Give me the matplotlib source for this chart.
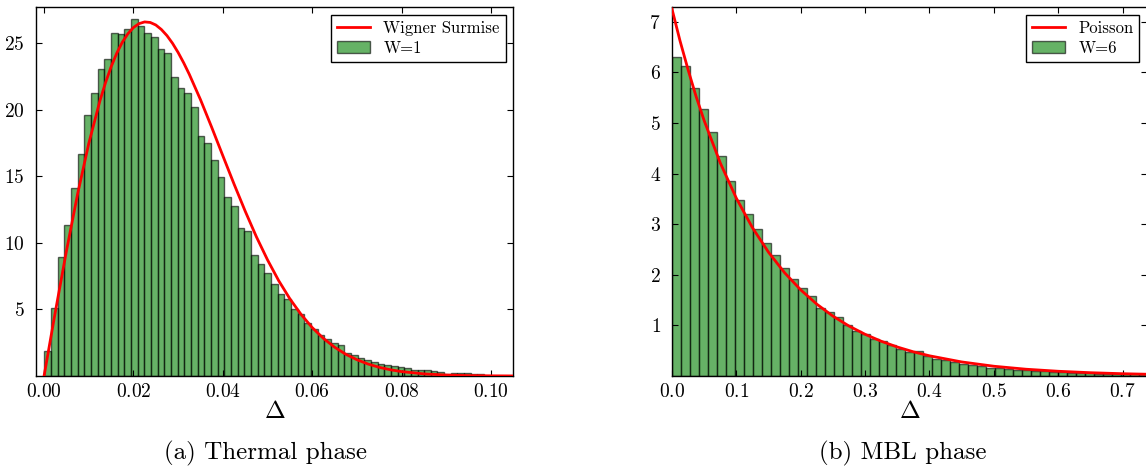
import matplotlib
matplotlib.use("Agg")
import matplotlib.pyplot as plt

# Serif look of the original (Computer Modern)
plt.rcParams['font.family'] = 'serif'
plt.rcParams['font.serif'] = ['cmr10', 'DejaVu Serif']
plt.rcParams['mathtext.fontset'] = 'cm'
plt.rcParams['axes.formatter.use_mathtext'] = True

# Thermal phase (W=1): histogram bars
thermal_start = 0.0001
thermal_width = 0.00149
thermal_heights = [1.88, 5.13, 8.96, 11.3, 14.13, 16.68, 19.58, 21.23, 23.08, 23.8,
                   25.73, 25.68, 26.05, 26.78, 26.3, 25.73, 25.48, 24.53, 24.25, 22.45,
                   21.63, 21.23, 20.2, 17.98, 17.5, 16.23, 14.95, 13.45, 12.78, 11.1,
                   10.85, 9.08, 8.38, 7.75, 6.93, 6.15, 5.75, 5.0, 4.65, 3.98,
                   3.55, 3.1, 2.8, 2.5, 2.33, 1.7, 1.6, 1.35, 1.18, 1.08,
                   0.93, 0.83, 0.78, 0.68, 0.6, 0.45, 0.43, 0.43, 0.35, 0.28,
                   0.13, 0.23, 0.23, 0.23, 0.13, 0.13]

# Wigner surmise curve
wigner_x = [0, 0.0025, 0.005, 0.0075, 0.01, 0.0125, 0.01375, 0.015, 0.01625, 0.0175,
            0.01875, 0.02, 0.02125, 0.0225, 0.02375, 0.025, 0.02625, 0.0275, 0.02875,
            0.03, 0.03125, 0.0325, 0.035, 0.0375, 0.04, 0.0425, 0.045, 0.0475,
            0.05, 0.0525, 0.055, 0.0575, 0.06, 0.0625, 0.065, 0.0675, 0.07, 0.0725,
            0.075, 0.0775, 0.08, 0.085, 0.09, 0.095, 0.1, 0.105]
wigner_y = [0, 4.77, 9.37, 13.65, 17.45, 20.66, 22.02, 23.21, 24.22, 25.05,
            25.69, 26.16, 26.45, 26.58, 26.54, 26.35, 26.01, 25.55, 24.97,
            24.28, 23.50, 22.64, 20.74, 18.67, 16.53, 14.41, 12.37, 10.45,
            8.71, 7.15, 5.79, 4.62, 3.63, 2.82, 2.16, 1.63, 1.22, 0.895,
            0.65, 0.466, 0.329, 0.159, 0.072, 0.031, 0.013, 0.005]

# MBL phase (W=6): histogram bars
mbl_start = 0.0
mbl_width = 0.01395
mbl_heights = [6.30, 6.12, 5.69, 5.28, 4.82, 4.34, 3.86, 3.47, 3.20, 2.90,
               2.62, 2.39, 2.13, 1.91, 1.73, 1.58, 1.35, 1.26, 1.17, 1.00,
               0.89, 0.82, 0.74, 0.69, 0.62, 0.53, 0.48, 0.49, 0.40, 0.34,
               0.31, 0.28, 0.24, 0.21, 0.19, 0.16, 0.15, 0.13, 0.12, 0.11,
               0.10, 0.09, 0.08, 0.07, 0.06, 0.05, 0.05, 0.04, 0.04, 0.035,
               0.03, 0.03, 0.025]

# Poisson curve, points
poisson_x = [0, 0.0125, 0.025, 0.0375, 0.05, 0.075, 0.1, 0.125, 0.15, 0.175, 0.2, 0.225,
             0.25, 0.275, 0.3, 0.325, 0.35, 0.375, 0.4, 0.45, 0.5, 0.55,
             0.6, 0.65, 0.7, 0.75]
poisson_y = [7.25, 6.62, 6.05, 5.52, 5.045, 4.209, 3.511, 2.929, 2.444, 2.039, 1.701, 1.419,
             1.183, 0.987, 0.824, 0.687, 0.573, 0.478, 0.399, 0.278, 0.193, 0.134,
             0.0936, 0.0651, 0.0453, 0.0315]

thermal_ticks = [0.00, 0.02, 0.04, 0.06, 0.08, 0.10]
thermal_yticks = [5, 10, 15, 20, 25]
mbl_ticks = [0.0, 0.1, 0.2, 0.3, 0.4, 0.5, 0.6, 0.7]
mbl_yticks = [1, 2, 3, 4, 5, 6, 7]

W, H = 1146, 466
fig = plt.figure(figsize=(W / 100, H / 100), dpi=100)
ax1 = fig.add_axes([36 / W, 1 - 376 / H, (513 - 36) / W, (376 - 7) / H])
ax2 = fig.add_axes([672 / W, 1 - 376 / H, (1147 - 672) / W, (376 - 7) / H])


def draw_panel(ax, start, width, heights, cx, cy, line_label, bar_label):
    lefts = [start + i * width for i in range(len(heights))]
    line, = ax.plot(cx, cy, color='r', lw=2, zorder=3)
    bars = ax.bar(lefts, heights, width=width, align='edge', color='g',
                  alpha=0.6, edgecolor='k', linewidth=1)
    leg = ax.legend([line, bars], [line_label, bar_label], loc='upper right',
                    fontsize=12, fancybox=False, framealpha=1, edgecolor='k',
                    borderaxespad=0.45, handlelength=2.0, borderpad=0.35,
                    labelspacing=0.3)
    leg.get_frame().set_linewidth(1)
    ax.tick_params(direction='in', top=True, right=True, length=4, width=0.8,
                   labelsize=14)
    ax.tick_params(axis='x', pad=5)
    ax.tick_params(axis='y', pad=8)
    for s in ax.spines.values():
        s.set_linewidth(1)
    ax.set_xlabel(r'$\Delta$', fontsize=18, labelpad=0)


draw_panel(ax1, thermal_start, thermal_width, thermal_heights,
           wigner_x, wigner_y, 'Wigner Surmise', 'W=1')
ax1.set_xlim(-0.0018, 0.1049)
ax1.set_ylim(0, 27.7)
ax1.set_xticks(thermal_ticks)
ax1.set_yticks(thermal_yticks)

draw_panel(ax2, mbl_start, mbl_width, mbl_heights,
           poisson_x, poisson_y, 'Poisson', 'W=6')
ax2.set_xlim(0, 0.738)
ax2.set_ylim(0, 7.29)
ax2.set_xticks(mbl_ticks)
ax2.set_yticks(mbl_yticks)

fig.text(265 / W, 1 - 453 / H, '(a) Thermal phase', fontsize=18,
         ha='center', va='center')
fig.text(903 / W, 1 - 453 / H, '(b) MBL phase', fontsize=18,
         ha='center', va='center')

fig.savefig('out.png', dpi=100)
